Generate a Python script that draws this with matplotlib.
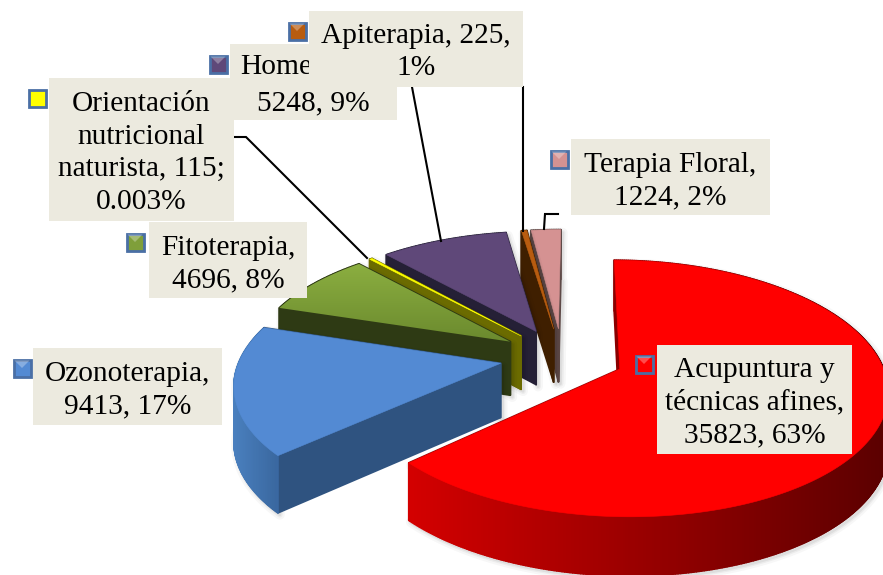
import numpy as np
import matplotlib
matplotlib.use("Agg")
import matplotlib.pyplot as plt
from matplotlib.patches import Polygon, Rectangle
from matplotlib.colors import to_rgb

plt.rcParams['font.family'] = ['Liberation Serif', 'DejaVu Serif']

categories = ["Acupuntura y técnicas afines", "Ozonoterapia", "Fitoterapia",
              "Orientación nutricional naturista", "Homeopatía", "Apiterapia", "Terapia Floral"]
values = [35823, 9413, 4696, 115, 5248, 225, 1224]
top_colors = ["#FF0000", "#538AD3", "#7F9F3A", "#FFFF00", "#5F4879", "#B85C10", "#D59292"]
cut_colors = ["#8A0000", "#2F5380", "#2E3A14", "#6B6B00", "#252036", "#3F1F00", "#5E4A48"]
wall_left = ["#D40000", "#4A80BF", "#2E3A14", "#6B6B00", "#252036", "#3F1F00", "#5E4A48"]
wall_right = ["#5A0000", "#3A68A0", "#2E3A14", "#6B6B00", "#252036", "#3F1F00", "#5E4A48"]
label_texts = ["Acupuntura y\ntécnicas afines,\n35823, 63%", "Ozonoterapia,\n9413, 17%",
               "Fitoterapia,\n4696, 8%", "Orientación\nnutricional\nnaturista, 115;\n0.003%",
               "5248, 9%", "Apiterapia, 225,\n1%", "Terapia Floral,\n1224, 2%"]
label_boxes = [(657, 345, 852, 454), (33, 348, 222, 425), (149, 222, 307, 298),
               (49, 78, 234, 221), (230, 44, 397, 120), (309, 11, 523, 87), (571, 139, 770, 215)]
label_y = [402.5, 390, 264, 153, 103, 52, 181]
key_centers = [(644, 364), (22, 368), (135, 242), (37, 98), (218, 64), (297, 31), (559, 159)]
leaders = [[(234, 137), (246, 137), (367, 258)], [(412, 87), (441, 241)],
           [(523, 87), (523, 231)], [(558, 214), (545, 214), (544, 229)]]

W, H = 883, 575
CX, CY, A, B, P, DEPTH = 562, 357, 260, 121.7, 0.149, 54
EXPLODE = 0.24


def project(u, v):
    """u to the right, v upward in the pie's plane; returns pixel x, y, scale."""
    s = 1 / (1 + P * v)
    return CX + A * u * s, CY - B * v * s, s


fig = plt.figure(figsize=(W / 100, H / 100), dpi=100)
ax = fig.add_axes([0, 0, 1, 1])
wedges, _ = ax.pie(values, startangle=89.5, counterclock=False,
                   explode=[EXPLODE] * len(values), radius=1)
geom = [(w.theta1, w.theta2, w.center) for w in wedges]
for w in wedges:
    w.remove()
ax.set_aspect('auto')
ax.set_xlim(0, W)
ax.set_ylim(H, 0)
ax.axis('off')


def shade(c1, c2, t):
    return tuple((1 - t) * a + t * b for a, b in zip(to_rgb(c1), to_rgb(c2)))


def depth(s):
    return DEPTH * np.sqrt(s)


order = list(range(len(values)))[::-1]  # back to front: floral ... ozono, red last
z = 2.0
for i in order:
    t1, t2, (ox, oy) = geom[i]
    n = max(int(t2 - t1) * 2, 2)
    th = np.radians(np.linspace(t1, t2, n))
    ru, rv = ox + np.cos(th), oy + np.sin(th)
    x, y, s = project(ru, rv)
    tx, ty, ts = project(np.array([ox]), np.array([oy]))
    px = np.concatenate([tx, x])
    py = np.concatenate([ty, y])
    ps = np.concatenate([ts, s])
    dp = depth(ps)

    # soft shadow around the extruded solid
    for lw, al in [(7, 0.03), (4, 0.045), (2, 0.06)]:
        sil = np.column_stack([np.concatenate([px + 2, (px + 2)[::-1]]),
                               np.concatenate([py + 3, (py + dp + 2)[::-1]])])
        ax.add_patch(Polygon(sil, closed=True, fc='none', ec='#000000', lw=lw, alpha=al, zorder=z,
                             joinstyle='round'))
    z += 0.01

    # side quads, far ones first
    quads = []
    for j in (1, len(px) - 1):
        q = [(px[0], py[0]), (px[j], py[j]), (px[j], py[j] + dp[j]), (px[0], py[0] + dp[0])]
        quads.append((rv[0 if j == 1 else -1] * 0.5 + oy * 0.5, q, cut_colors[i]))
    xmin, xmax = x.min(), x.max()
    for j in range(n - 1):
        q = [(x[j], y[j]), (x[j + 1], y[j + 1]),
             (x[j + 1], y[j + 1] + depth(s[j + 1])), (x[j], y[j] + depth(s[j]))]
        t = (0.5 * (x[j] + x[j + 1]) - xmin) / max(xmax - xmin, 1)
        quads.append(((rv[j] + rv[j + 1]) / 2, q, shade(wall_left[i], wall_right[i], t)))
    quads.sort(key=lambda a: -a[0])
    for _, q, c in quads:
        ax.add_patch(Polygon(q, closed=True, fc=c, ec=c, lw=1.3, zorder=z, joinstyle='round'))
        z += 0.001

    # top face
    pts = np.column_stack([px, py])
    if i == 2:  # green face carries a vertical gradient
        clip = Polygon(pts, closed=True, fc='none', ec='none', zorder=z)
        ax.add_patch(clip)
        f = np.linspace(0, 1, 64)[:, None, None]
        grad = f * np.array([[to_rgb("#6B8A2E")]]) + (1 - f) * np.array([[to_rgb("#8BAE40")]])
        im = ax.imshow(grad, extent=(px.min(), px.max(), py.max(), py.min()),
                       aspect='auto', zorder=z, interpolation='bilinear')
        im.set_clip_path(clip)
        ax.set_xlim(0, W)
        ax.set_ylim(H, 0)
    else:
        ax.add_patch(Polygon(pts, closed=True, fc=top_colors[i], ec=top_colors[i], lw=0.4, zorder=z))
    z += 0.01

# leader lines
for pts in leaders:
    a = np.array(pts)
    ax.plot(a[:, 0], a[:, 1], color='black', lw=1.5, zorder=20, solid_joinstyle='miter')

# label boxes, keys, text
draw_order = [4, 5, 3, 2, 1, 0, 6]
zz = 30
for i in draw_order:
    x0, y0, x1, y1 = label_boxes[i]
    ax.add_patch(Rectangle((x0, y0), x1 - x0, y1 - y0, fc='#ECEADF', ec='none', zorder=zz))
    ax.text((x0 + x1) / 2, label_y[i], label_texts[i], ha='center', va='center', fontsize=21.2,
            color='black', linespacing=1.33, zorder=zz + 1)
    kx, ky = key_centers[i]
    ax.add_patch(Rectangle((kx - 8.5, ky - 8.5), 17, 17, fc=top_colors[i], ec='#4A6FA5', lw=2, zorder=zz + 2))
    if i != 3:
        ax.add_patch(Polygon([(kx - 7.5, ky - 7.5), (kx + 7.5, ky - 7.5), (kx, ky)], closed=True,
                             fc='white', ec='none', alpha=0.3, zorder=zz + 2.5))
    zz += 3
ax.text(240, 67, "Home", ha='left', va='center', fontsize=21.2, color='black', zorder=32)
fig.savefig("out.png", dpi=100)
